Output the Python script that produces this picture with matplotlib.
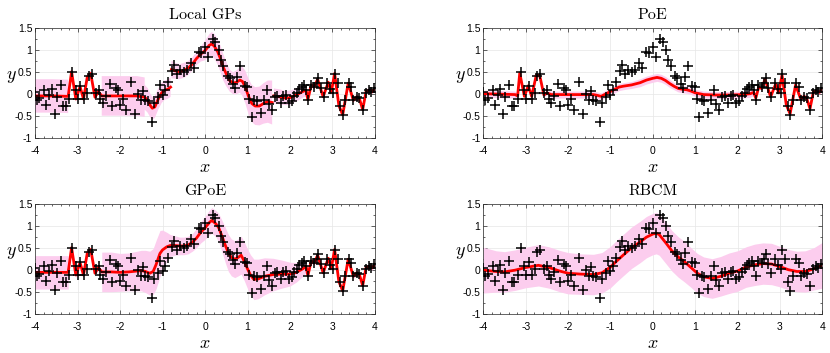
"""
Local GPs vs PoE / GPoE / RBCM on a 1-D toy problem.
"""
import numpy as np
import matplotlib
matplotlib.use('Agg')
import matplotlib.pyplot as plt
from matplotlib.ticker import MultipleLocator

nan = np.nan

# training points (same in every panel)
pts_x = [-4.00, -3.95, -3.90, -3.78, -3.73, -3.66, -3.61, -3.54, -3.48, -3.39, -3.33, -3.27,
         -3.19, -3.12, -3.04, -3.00, -2.93, -2.85, -2.78, -2.73, -2.66, -2.57, -2.50, -2.46,
         -2.40, -2.32, -2.24, -2.19, -2.10, -2.04, -1.99, -1.93, -1.85, -1.74, -1.65, -1.58,
         -1.51, -1.46, -1.42, -1.33, -1.25, -1.19, -1.10, -1.06, -1.00, -0.94, -0.86, -0.78,
         -0.73, -0.65, -0.58, -0.50, -0.42, -0.33, -0.26, -0.15, -0.09, 0.00, 0.08, 0.18,
         0.24, 0.32, 0.37, 0.42, 0.53, 0.58, 0.66, 0.71, 0.76, 0.83, 0.93, 0.99,
         1.04, 1.10, 1.16, 1.22, 1.31, 1.38, 1.45, 1.50, 1.57, 1.64, 1.70, 1.78,
         1.84, 1.90, 1.97, 2.04, 2.10, 2.17, 2.22, 2.28, 2.34, 2.38, 2.43, 2.49,
         2.57, 2.63, 2.67, 2.72, 2.79, 2.88, 2.95, 3.02, 3.06, 3.12, 3.18, 3.24,
         3.30, 3.38, 3.44, 3.49, 3.57, 3.63, 3.71, 3.78, 3.85, 3.91, 3.97]
pts_y = [0.03, -0.14, -0.09, 0.08, -0.26, -0.03, 0.10, -0.45, -0.07, 0.20, -0.28, -0.28,
         -0.13, 0.50, 0.08, -0.12, 0.18, -0.12, 0.01, 0.40, 0.45, 0.01, 0.08, -0.12,
         -0.22, -0.06, 0.22, -0.27, 0.12, 0.08, -0.26, -0.12, -0.36, 0.27, -0.47, 0.00,
         -0.15, 0.06, -0.15, -0.17, -0.64, -0.22, -0.07, 0.20, -0.02, 0.08, 0.27, 0.52,
         0.65, 0.44, 0.54, 0.49, 0.54, 0.69, 0.58, 0.95, 0.92, 1.06, 0.84, 1.25,
         1.18, 1.00, 0.77, 0.62, 0.40, 0.35, 0.22, 0.14, 0.37, 0.64, 0.18, 0.16,
         -0.12, -0.54, -0.14, -0.16, -0.44, -0.14, 0.09, -0.24, -0.37, -0.08, -0.05, -0.22,
         -0.06, -0.03, -0.22, -0.16, -0.06, 0.02, 0.11, 0.15, 0.19, 0.08, -0.15, 0.20,
         0.15, 0.24, 0.35, 0.12, -0.08, 0.25, 0.10, 0.02, 0.45, 0.25, -0.27, -0.49,
         -0.15, 0.24, 0.15, -0.14, -0.07, -0.10, -0.36, 0.01, 0.08, 0.05, 0.12]

# Local GPs: mean and half width of the band (nan = break between experts)
lgp_x = [-4.0, -3.6, -3.22, -3.22, -3.14, -3.04, -2.94, -2.86, -2.77, -2.69, -2.59, -2.51, -2.43,
         -2.43, -2.0, -1.6, -1.42, -1.42, -1.35, -1.28, -1.24, -1.18, -1.1, -1.02, -0.95, -0.88, -0.81,
         -0.8, -0.79, -0.7, -0.6, -0.5, -0.4, -0.3, -0.2, -0.1, 0.0, 0.1, 0.16, 0.22, 0.3, 0.37,
         0.43, 0.5, 0.58, 0.66, 0.74, 0.82, 0.88, 0.95, 1.02, 1.1, 1.18, 1.28, 1.38, 1.48, 1.58,
         1.6, 1.62, 1.75, 1.9, 2.0, 2.1, 2.2, 2.3, 2.38,
         2.38, 2.42, 2.5, 2.57, 2.65, 2.78, 2.9, 2.97, 3.05, 3.15, 3.24, 3.37, 3.49, 3.57, 3.63,
         3.71, 3.79, 3.87, 3.93, 4.0]
lgp_mu = [-0.05, -0.05, -0.06, -0.06, 0.50, -0.12, 0.16, -0.12, 0.38, 0.46, -0.08, 0.05, -0.05,
          -0.05, -0.05, -0.05, -0.08, -0.08, -0.15, -0.28, -0.33, -0.30, -0.12, 0.02, 0.08, 0.10, 0.15,
          nan, 0.55, 0.52, 0.50, 0.53, 0.58, 0.67, 0.80, 0.90, 0.98, 1.10, 1.13, 1.08, 0.95, 0.78,
          0.60, 0.45, 0.30, 0.24, 0.26, 0.31, 0.28, 0.15, -0.05, -0.22, -0.28, -0.28, -0.22, -0.18, -0.20,
          nan, -0.05, -0.07, -0.10, -0.09, -0.05, 0.00, 0.05, 0.08,
          0.08, -0.14, 0.20, 0.15, 0.33, -0.07, 0.26, 0.03, 0.46, -0.27, -0.48, 0.24, -0.15, -0.07, -0.10,
          -0.36, 0.05, 0.08, 0.04, 0.12]
lgp_hw = [0.38, 0.38, 0.38, 0.06, 0.06, 0.06, 0.06, 0.06, 0.06, 0.06, 0.06, 0.06, 0.06,
          0.45, 0.45, 0.45, 0.45, 0.28, 0.28, 0.27, 0.26, 0.25, 0.24, 0.23, 0.22, 0.22, 0.22,
          nan, 0.20, 0.18, 0.17, 0.17, 0.16, 0.15, 0.15, 0.17, 0.22, 0.25, 0.27, 0.28, 0.29, 0.30,
          0.30, 0.28, 0.25, 0.25, 0.27, 0.29, 0.33, 0.37, 0.40, 0.42, 0.43, 0.44, 0.46, 0.48, 0.50,
          nan, 0.17, 0.17, 0.16, 0.16, 0.15, 0.15, 0.14, 0.14,
          0.05, 0.05, 0.05, 0.05, 0.05, 0.05, 0.05, 0.05, 0.05, 0.05, 0.05, 0.05, 0.05, 0.05, 0.05,
          0.05, 0.05, 0.05, 0.05, 0.05]

# PoE
poe_x = [-4.0, -3.6, -3.25, -3.19, -3.14, -3.03, -2.94, -2.86, -2.75, -2.67, -2.57, -2.5, -2.4,
         -2.0, -1.6, -1.4, -1.3, -1.22, -1.1, -1.0, -0.9, -0.8, -0.7, -0.5, -0.3, -0.15, 0.0, 0.1,
         0.2, 0.3, 0.4, 0.5, 0.6, 0.7, 0.8, 0.9, 1.0, 1.2, 1.5, 1.8, 2.1, 2.3, 2.38,
         2.43, 2.5, 2.57, 2.65, 2.78, 2.9, 2.97, 3.05, 3.15, 3.24, 3.37, 3.49, 3.57, 3.63, 3.71,
         3.79, 3.87, 3.93, 4.0]
poe_mu = [0.0, -0.01, -0.02, -0.05, 0.47, -0.06, 0.18, -0.06, 0.42, 0.42, -0.03, 0.02, -0.02,
          -0.02, -0.02, -0.02, -0.04, -0.06, 0.00, 0.05, 0.10, 0.15, 0.17, 0.20, 0.25, 0.31, 0.35, 0.37,
          0.35, 0.30, 0.23, 0.17, 0.12, 0.10, 0.09, 0.06, 0.02, -0.02, -0.03, -0.03, -0.02, 0.00, 0.03,
          -0.10, 0.15, 0.12, 0.33, -0.07, 0.22, 0.02, 0.42, -0.25, -0.46, 0.20, -0.12, -0.06, -0.10, -0.34,
          0.04, 0.07, 0.03, 0.10]
poe_hw = [0.08, 0.08, 0.08, 0.04, 0.04, 0.04, 0.04, 0.04, 0.04, 0.04, 0.04, 0.04, 0.08,
          0.08, 0.08, 0.08, 0.08, 0.08, 0.08, 0.08, 0.08, 0.08, 0.08, 0.08, 0.09, 0.09, 0.09, 0.09,
          0.09, 0.09, 0.09, 0.08, 0.08, 0.08, 0.08, 0.08, 0.08, 0.08, 0.08, 0.08, 0.08, 0.08, 0.07,
          0.04, 0.04, 0.04, 0.04, 0.04, 0.04, 0.04, 0.04, 0.04, 0.04, 0.04, 0.04, 0.04, 0.04, 0.04,
          0.04, 0.04, 0.04, 0.04]

# GPoE
gpoe_x = [-4.0, -3.6, -3.22, -3.22, -3.14, -3.04, -2.94, -2.86, -2.77, -2.69, -2.59, -2.51, -2.43,
          -2.43, -2.2, -2.0, -1.8, -1.6, -1.5, -1.4, -1.3, -1.22, -1.15, -1.06, -1.0, -0.9, -0.82,
          -0.7, -0.6, -0.5, -0.4, -0.3, -0.2, -0.1, 0.0, 0.1, 0.16, 0.25, 0.32, 0.4, 0.48, 0.55,
          0.62, 0.7, 0.78, 0.85, 0.92, 1.0, 1.07, 1.15, 1.25, 1.4, 1.6, 1.8, 2.0, 2.15, 2.3, 2.38,
          2.38, 2.42, 2.5, 2.57, 2.65, 2.78, 2.9, 2.97, 3.05, 3.15, 3.24, 3.37, 3.49, 3.57, 3.63,
          3.71, 3.79, 3.87, 3.93, 4.0]
gpoe_mu = [-0.06, -0.06, -0.06, -0.06, 0.50, -0.12, 0.16, -0.12, 0.38, 0.46, -0.08, 0.05, -0.05,
           -0.05, -0.05, -0.06, -0.05, -0.03, -0.02, -0.04, -0.08, -0.04, 0.12, 0.37, 0.45, 0.52, 0.55,
           0.55, 0.54, 0.54, 0.56, 0.62, 0.72, 0.85, 0.95, 1.07, 1.12, 1.05, 0.96, 0.76, 0.55, 0.38,
           0.28, 0.24, 0.28, 0.33, 0.20, 0.02, -0.12, -0.22, -0.21, -0.15, -0.11, -0.10, -0.10, -0.06, 0.02, 0.08,
           0.08, -0.14, 0.20, 0.15, 0.33, -0.07, 0.26, 0.03, 0.46, -0.27, -0.48, 0.24, -0.15, -0.07, -0.10,
           -0.36, 0.05, 0.08, 0.04, 0.12]
gpoe_hw = [0.38, 0.38, 0.38, 0.06, 0.06, 0.06, 0.06, 0.06, 0.06, 0.06, 0.06, 0.06, 0.06,
           0.45, 0.45, 0.43, 0.43, 0.45, 0.46, 0.48, 0.50, 0.52, 0.55, 0.52, 0.45, 0.33, 0.25,
           0.22, 0.20, 0.20, 0.20, 0.20, 0.22, 0.24, 0.26, 0.28, 0.29, 0.30, 0.32, 0.36, 0.40, 0.42,
           0.42, 0.42, 0.42, 0.43, 0.44, 0.45, 0.46, 0.46, 0.45, 0.42, 0.37, 0.32, 0.27, 0.22, 0.17, 0.14,
           0.05, 0.05, 0.05, 0.05, 0.05, 0.05, 0.05, 0.05, 0.05, 0.05, 0.05, 0.05, 0.05, 0.05, 0.05,
           0.05, 0.05, 0.05, 0.05, 0.05]

# RBCM
rbcm_x = [-4.0, -3.7, -3.5, -3.25, -3.0, -2.7, -2.45, -2.2, -2.0, -1.7, -1.4, -1.2, -1.0, -0.85,
          -0.7, -0.5, -0.3, -0.15, 0.0, 0.08, 0.15, 0.3, 0.45, 0.6, 0.75, 0.9, 1.05, 1.2, 1.4,
          1.6, 1.8, 2.0, 2.2, 2.4, 2.6, 2.8, 3.0, 3.2, 3.4, 3.6, 3.8, 4.0]
rbcm_mu = [-0.01, -0.04, -0.05, -0.01, 0.05, 0.10, 0.05, -0.03, -0.08, -0.10, -0.11, -0.07, 0.06, 0.20,
           0.33, 0.50, 0.63, 0.74, 0.81, 0.83, 0.80, 0.62, 0.43, 0.29, 0.18, 0.05, -0.08, -0.16, -0.20,
           -0.15, -0.08, -0.03, 0.06, 0.11, 0.14, 0.13, 0.07, 0.00, -0.04, -0.04, 0.02, 0.10]
rbcm_hw = [0.52, 0.47, 0.46, 0.46, 0.46, 0.47, 0.47, 0.47, 0.47, 0.46, 0.46, 0.46, 0.47, 0.47,
           0.47, 0.47, 0.47, 0.47, 0.47, 0.47, 0.47, 0.47, 0.46, 0.46, 0.46, 0.45, 0.45, 0.45, 0.45,
           0.45, 0.46, 0.46, 0.46, 0.47, 0.47, 0.47, 0.46, 0.46, 0.46, 0.47, 0.48, 0.52]

titles = ['Local GPs', 'PoE', 'GPoE', 'RBCM']
panels = [(lgp_x, lgp_mu, lgp_hw), (poe_x, poe_mu, poe_hw),
          (gpoe_x, gpoe_mu, gpoe_hw), (rbcm_x, rbcm_mu, rbcm_hw)]

plt.rcParams['mathtext.fontset'] = 'cm'
plt.rcParams['font.family'] = 'Liberation Sans'

fig = plt.figure(figsize=(8.3, 3.53), dpi=100)
pos = [[0.0422, 0.6099, 0.4096, 0.3116], [0.5823, 0.6099, 0.4084, 0.3116],
       [0.0422, 0.1113, 0.4096, 0.3116], [0.5823, 0.1113, 0.4084, 0.3116]]

for p, title, (x, mu, hw) in zip(pos, titles, panels):
    ax = fig.add_axes(p)
    x = np.array(x)
    mu = np.array(mu)
    hw = np.array(hw)
    ax.fill_between(x, mu - hw, mu + hw, color='#fccdee', lw=0, zorder=1)
    ax.plot(x, mu, color='red', lw=2, zorder=2)
    ax.plot(pts_x, pts_y, '+', color='black', ms=6.5, mew=1.1, zorder=3)

    ax.set_xlim(-4, 4)
    ax.set_ylim(-1, 1.5)
    ax.set_xticks(range(-4, 5))
    ax.set_xticklabels([str(v) for v in range(-4, 5)])
    ax.set_yticks([-1, -0.5, 0, 0.5, 1, 1.5])
    ax.set_yticklabels(['-1', '-0.5', '0', '0.5', '1', '1.5'])
    ax.xaxis.set_minor_locator(MultipleLocator(0.2))
    ax.yaxis.set_minor_locator(MultipleLocator(0.25))
    ax.tick_params(which='both', direction='in', top=True, right=True,
                   color='#262626', width=0.5)
    ax.tick_params(which='major', length=3, labelsize=7.5)
    ax.tick_params(which='minor', length=1.5)
    ax.tick_params(axis='x', pad=6)
    ax.tick_params(axis='y', pad=2)
    ax.grid(True, which='major', color='#e6e6e6', lw=0.5)
    ax.set_axisbelow(True)
    for s in ax.spines.values():
        s.set_color('#262626')
        s.set_linewidth(0.5)

    ax.set_title(title, fontfamily='cmr10', fontsize=11.5, pad=6)
    ax.set_xlabel('$x$', fontsize=13, va='center')
    ax.xaxis.set_label_coords(0.5, -0.27)
    ax.set_ylabel('$y$', fontsize=13, rotation=0, ha='center', va='center')
    ax.yaxis.set_label_coords(-0.068, 0.56)

fig.savefig('out.png', dpi=100)
